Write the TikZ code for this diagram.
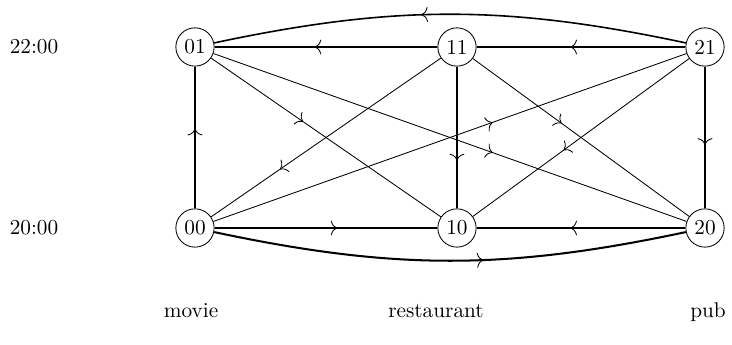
\documentclass[tikz,border=0pt]{standalone}
\usetikzlibrary{decorations.markings,arrows.meta}
\begin{document}
\begin{tikzpicture}[x=0.47pt,y=-0.47pt,
  st/.style={draw,circle,minimum size=18pt,inner sep=0pt},
  lbl/.style={inner sep=0pt},
  mk/.style={postaction={decorate},decoration={markings,mark=at position #1 with {\arrow[line width=0.4pt]{Computer Modern Rightarrow[length=3pt,width=7pt]}}}},
  heavy/.style={line width=0.75pt},
  heavier/.style={line width=0.95pt},
  diag/.style={line width=0.4pt}]
\useasboundingbox (0,0) rectangle (732,345);
\node[st] (n01) at (195,47) {01};
\node[st] (n11) at (457,47) {11};
\node[st] (n21) at (705,47) {21};
\node[st] (n00) at (195,228) {00};
\node[st] (n10) at (457,228) {10};
\node[st] (n20) at (705,228) {20};
\node[lbl] (t22) at (34,47) {22:00};
\node[lbl] (t20) at (34,228) {20:00};
\node[lbl,anchor=base] (lm) at (191,318) {movie};
\node[lbl,anchor=base] (lr) at (436,318) {restaurant};
\node[lbl,anchor=base] (lp) at (708,318) {pub};
% top row
\draw[heavy,mk=0.55] (n11) -- (n01);
\draw[heavy,mk=0.55] (n21) -- (n11);
\draw[heavy,mk=0.56] (n21) to[bend right=12] (n01);
% verticals
\draw[heavy,mk=0.56] (n00) -- (n01);
\draw[heavy,mk=0.66] (n11) -- (n10);
\draw[heavy,mk=0.55] (n21) -- (n20);
% bottom row
\draw[heavier,mk=0.55] (n00) -- (n10);
\draw[heavier,mk=0.55] (n20) -- (n10);
\draw[heavier,mk=0.57] (n00) to[bend right=12] (n20);
% diagonals
\draw[diag,mk=0.40] (n01) -- (n10);
\draw[diag,mk=0.59] (n01) -- (n20);
\draw[diag,mk=0.70] (n11) -- (n00);
\draw[diag,mk=0.41] (n11) -- (n20);
\draw[diag,mk=0.59] (n00) -- (n21);
\draw[diag,mk=0.58] (n21) -- (n10);
\end{tikzpicture}
\end{document}
